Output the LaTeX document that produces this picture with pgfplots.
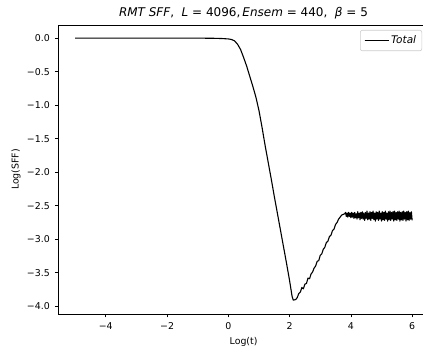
\documentclass[border=0pt]{standalone}
\usepackage{fontspec}
\setmainfont{DejaVu Sans}
\usepackage{pgfplots}
\pgfplotsset{compat=1.18}
\begin{document}
\begin{tikzpicture}
\begin{axis}[
  at={(0,0)}, anchor=south west,
  scale only axis, width=370.7bp, height=289bp,
  xmin=-5.55, xmax=6.55, ymin=-4.116, ymax=0.196,
  xtick={-4,-2,0,2,4,6}, xticklabels={−4,−2,0,2,4,6},
  ytick={-4,-3.5,-3,-2.5,-2,-1.5,-1,-0.5,0},
  yticklabels={−4.0,−3.5,−3.0,−2.5,−2.0,−1.5,−1.0,−0.5,0.0},
  tick align=outside, tick pos=left,
  major tick length=3.3bp,
  every tick/.style={line width=0.75bp, black},
  axis line style={line width=0.75bp, black},
  tick label style={font=\fontsize{9.4bp}{11bp}\selectfont},
  xticklabel style={inner xsep=0pt, inner ysep=5.4bp},
  yticklabel style={inner ysep=0pt, inner xsep=5bp},
  legend style={at={(rel axis cs:0.8139,1)}, anchor=north west, yshift=-5bp,
    draw=black!20, rounded corners=2bp, line width=0.6bp, fill=white,
    font=\fontsize{10.5bp}{12bp}\selectfont\itshape, inner xsep=3.7bp, inner ysep=3.5bp},
  legend image code/.code={\draw[black, line width=1.1bp] (0bp,0bp) -- (19bp,0bp);
    \path (0bp,0bp) -- (24bp,0bp);},
]
\addplot[black, line width=1.1bp, line join=round] coordinates {
(-5,0) (-4,0) (-3,0) (-2,0) (-1,0) (-0.5,-0.002) (-0.2,-0.006) (0,-0.012)
(0.1,-0.02) (0.2,-0.04) (0.3,-0.09) (0.4,-0.17) (0.5,-0.29) (0.6,-0.42)
(0.7,-0.57) (0.8,-0.72) (0.9,-0.88) (1.0,-1.08) (1.1,-1.33) (1.2,-1.60)
(1.3,-1.85) (1.4,-2.10) (1.5,-2.36) (1.6,-2.61) (1.7,-2.86) (1.8,-3.11)
(1.9,-3.36) (2.0,-3.62) (2.08,-3.85) (2.12,-3.91) (2.2,-3.90)
(2.25,-3.87) (2.30,-3.81) (2.35,-3.79) (2.40,-3.72) (2.45,-3.74) (2.50,-3.67)
(2.55,-3.66) (2.60,-3.58) (2.65,-3.59) (2.70,-3.52) (2.75,-3.49) (2.80,-3.43)
(2.85,-3.40) (2.90,-3.33) (2.95,-3.32) (3.00,-3.24) (3.05,-3.22) (3.10,-3.15)
(3.15,-3.12) (3.20,-3.05) (3.25,-3.03) (3.30,-2.96) (3.35,-2.94) (3.40,-2.87)
(3.45,-2.85) (3.50,-2.78) (3.55,-2.75) (3.60,-2.70) (3.65,-2.67) (3.70,-2.64)
(3.75,-2.63) (3.80,-2.62)
(3.825,-2.60) (3.850,-2.66) (3.875,-2.61) (3.900,-2.67) (3.925,-2.60) (3.950,-2.66)
(3.975,-2.61) (4.000,-2.68) (4.025,-2.60) (4.050,-2.67) (4.075,-2.61) (4.100,-2.69)
(4.125,-2.60) (4.150,-2.68) (4.175,-2.62) (4.200,-2.70) (4.225,-2.59) (4.250,-2.68)
(4.275,-2.61) (4.300,-2.71) (4.325,-2.60) (4.350,-2.69) (4.375,-2.59) (4.400,-2.70)
(4.425,-2.61) (4.450,-2.72) (4.475,-2.60) (4.500,-2.69) (4.525,-2.58) (4.550,-2.71)
(4.575,-2.61) (4.600,-2.70) (4.625,-2.59) (4.650,-2.72) (4.675,-2.60) (4.700,-2.69)
(4.725,-2.58) (4.750,-2.71) (4.775,-2.61) (4.800,-2.73) (4.825,-2.59) (4.850,-2.70)
(4.875,-2.60) (4.900,-2.72) (4.925,-2.58) (4.950,-2.70) (4.975,-2.61) (5.000,-2.73)
(5.025,-2.59) (5.050,-2.71) (5.075,-2.60) (5.100,-2.72) (5.125,-2.58) (5.150,-2.70)
(5.175,-2.61) (5.200,-2.73) (5.225,-2.59) (5.250,-2.71) (5.275,-2.58) (5.300,-2.72)
(5.325,-2.60) (5.350,-2.70) (5.375,-2.59) (5.400,-2.73) (5.425,-2.58) (5.450,-2.71)
(5.475,-2.60) (5.500,-2.72) (5.525,-2.59) (5.550,-2.70) (5.575,-2.58) (5.600,-2.73)
(5.625,-2.60) (5.650,-2.71) (5.675,-2.59) (5.700,-2.72) (5.725,-2.58) (5.750,-2.70)
(5.775,-2.60) (5.800,-2.73) (5.825,-2.59) (5.850,-2.71) (5.875,-2.58) (5.900,-2.72)
(5.925,-2.60) (5.950,-2.70) (5.975,-2.59) (6.000,-2.72)
};
\addlegendentry{Total}
\end{axis}
\node[font=\fontsize{12bp}{14bp}\selectfont] at (185.2bp,300.7bp)
  {{\itshape RMT SFF},\ \ {\itshape L} = 4096,\,{\itshape Ensem} = 440,\ \ {\itshape β} = 5};
\node[font=\fontsize{9.4bp}{11bp}\selectfont] at (185.3bp,-27.7bp) {Log(t)};
\node[font=\fontsize{9.4bp}{11bp}\selectfont, rotate=90] at (-42.3bp,144.5bp) {Log(SFF)};
\pgfresetboundingbox
\useasboundingbox (-58.3bp,-36bp) rectangle (364.7bp,314bp);
\end{tikzpicture}
\end{document}
